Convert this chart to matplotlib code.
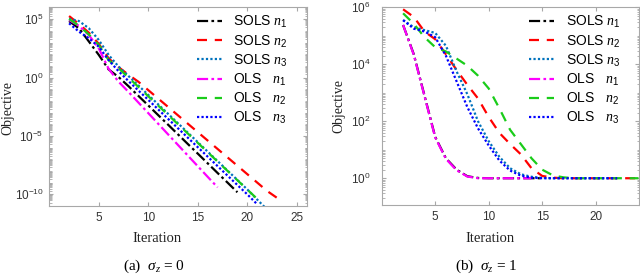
import numpy as np
import matplotlib.pyplot as plt
from matplotlib.ticker import LogLocator, NullFormatter, FixedLocator

plt.rcParams['font.family'] = ['Liberation Sans', 'DejaVu Sans']
plt.rcParams['mathtext.fontset'] = 'custom'
plt.rcParams['mathtext.rm'] = 'Liberation Serif'
plt.rcParams['mathtext.it'] = 'Liberation Serif:italic'
plt.rcParams['mathtext.default'] = 'regular'

# ---- data: log10(objective) per iteration, first iteration = 2 ----
labels = ['SOLS $\\mathit{n}_1$', 'SOLS $\\mathit{n}_2$', 'SOLS $\\mathit{n}_3$',
          'OLS   $\\mathit{n}_1$', 'OLS   $\\mathit{n}_2$', 'OLS   $\\mathit{n}_3$']

# (a) sigma_z = 0
a_sols_n1 = [4.85, 4.23, 3.1, 1.95, 0.7, 0.05, -0.73, -1.56, -2.38, -3.21, -4.03,
             -4.86, -5.69, -6.51, -7.34, -8.17, -8.99, -9.82]
a_sols_n2 = [5.28, 4.6, 3.85, 2.9, 1.65, 0.9, 0.25, -0.35, -1.07, -1.79, -2.51,
             -3.23, -3.95, -4.67, -5.39, -6.11, -6.83, -7.55, -8.27, -8.99, -9.71, -10.3]
a_sols_n3 = [5.05, 4.85, 4.23, 3.23, 1.94, 0.95, 0.14, -0.67, -1.48, -2.29, -3.1,
             -3.91, -4.72, -5.53, -6.34, -7.15, -7.96, -8.77, -9.58, -10.45, -11.3]
a_ols_n1 = [4.94, 4.45, 3.65, 2.5, 0.75, -0.35, -1.22, -2.13, -3.04, -3.95, -4.86,
            -5.77, -6.68, -7.59, -8.5, -9.4]
a_ols_n2 = [5.03, 4.45, 3.7, 2.8, 1.5, 0.8, 0.01, -0.79, -1.59, -2.39, -3.19,
            -3.99, -4.79, -5.59, -6.39, -7.19, -7.99, -8.79, -9.59, -10.39]
a_ols_n3 = [4.66, 3.94, 3.37, 2.65, 1.5, 0.55, -0.29, -1.1, -1.9, -2.72, -3.53,
            -4.34, -5.15, -5.96, -6.77, -7.58, -8.39, -9.2, -10.0, -10.85]

# (b) sigma_z = 1
b_sols_n1 = [5.38, 4.35, 2.9, 1.45, 0.7, 0.3, 0.07, 0.01, 0.0, 0.0, 0.0, 0.0, 0.0, 0.0]
b_sols_n2 = [5.93, 5.66, 5.15, 4.88, 4.35, 3.8, 3.28, 2.8, 2.15, 1.59, 1.2, 0.84,
             0.35, 0.08, 0.02, 0.0, 0.0, 0.0, 0.0, 0.0, 0.0, 0.0, 0.0]
b_sols_n3 = [5.55, 5.3, 5.2, 5.1, 4.65, 3.75, 2.95, 2.0, 1.3, 0.75, 0.35, 0.14,
             0.05, 0.01, 0.0, 0.0, 0.0, 0.0, 0.0, 0.0, 0.0]
b_ols_n1 = [5.38, 4.33, 2.88, 1.43, 0.68, 0.28, 0.06, 0.0, 0.0, 0.0, 0.0, 0.0, 0.0]
b_ols_n2 = [5.79, 5.42, 4.95, 4.6, 4.45, 4.2, 3.95, 3.6, 3.15, 2.45, 1.7, 1.2,
            0.7, 0.3, 0.1, 0.03, 0.0, 0.0, 0.0, 0.0, 0.0, 0.0, 0.0]
b_ols_n3 = [5.55, 5.25, 5.15, 4.95, 4.3, 3.4, 2.5, 1.75, 1.15, 0.62, 0.27, 0.09,
            0.02, 0.0, 0.0, 0.0, 0.0, 0.0, 0.0, 0.0, 0.0]

colors = ['black', 'red', (0, 0.447, 0.741), 'magenta', (0.1, 0.8, 0.1), 'blue']
styles = [(0, (5, 1.5, 1.2, 1.5)), (0, (4.5, 3.5)), (0, (1, 1)),
          (0, (5, 1.5, 1.2, 1.5)), (0, (4.5, 3.5)), (0, (1, 1))]


def style_axes(ax, xlim, ylim, major, ypad):
    ax.set_yscale('log')
    ax.set_xlim(*xlim)
    ax.set_ylim(*ylim)
    ax.set_xticks([5, 10, 15, 20, 25] if xlim[1] > 25 else [5, 10, 15, 20])
    ax.yaxis.set_major_locator(FixedLocator(major))
    ax.yaxis.set_minor_locator(LogLocator(base=10, subs=np.arange(1, 10), numticks=40))
    ax.yaxis.set_minor_formatter(NullFormatter())
    for s in ax.spines.values():
        s.set_color('#a8a8a8')
        s.set_linewidth(0.8)
    ax.tick_params(which='both', direction='in', top=True, right=True,
                   color='#a8a8a8', labelcolor='#333333', labelsize=8.5)
    ax.tick_params(which='major', length=3)
    ax.tick_params(which='minor', length=1.8)
    ax.tick_params(axis='y', pad=ypad)
    ax.tick_params(axis='x', pad=4)


fig = plt.figure(figsize=(6.4, 2.79), dpi=100)
ax1 = fig.add_axes([0.0770, 0.2616, 0.4022, 0.7122])
ax2 = fig.add_axes([0.5964, 0.2652, 0.4013, 0.7086])

panel_a = [a_sols_n1, a_sols_n2, a_sols_n3, a_ols_n1, a_ols_n2, a_ols_n3]
panel_b = [b_sols_n1, b_sols_n2, b_sols_n3, b_ols_n1, b_ols_n2, b_ols_n3]

for ax, panel in [(ax1, panel_a), (ax2, panel_b)]:
    for vals, c, ls, lab in zip(panel, colors, styles, labels):
        it = np.arange(2, 2 + len(vals))
        ax.plot(it, np.power(10.0, vals), color=c, linestyle=ls, lw=1.6, label=lab)

style_axes(ax1, (0, 26), (1e-11, 1.07e6), [1e-10, 1e-5, 1e0, 1e5], 4)
style_axes(ax2, (0, 24), (10 ** -0.94, 1e6), [1e0, 1e2, 1e4, 1e6], 8)

ax1.legend(loc='upper left', bbox_to_anchor=(197 / 640, 1 - 14 / 279),
           bbox_transform=fig.transFigure, frameon=False, fontsize=10,
           handlelength=1.8, handletextpad=0.8, labelspacing=0.2, borderpad=0,
           borderaxespad=0)
ax2.legend(loc='upper left', bbox_to_anchor=(529 / 640, 1 - 14 / 279),
           bbox_transform=fig.transFigure, frameon=False, fontsize=10,
           handlelength=1.8, handletextpad=0.9, labelspacing=0.2, borderpad=0,
           borderaxespad=0)

serif = ['Liberation Serif', 'DejaVu Serif']
fig.text(7.5 / 640, 1 - 108 / 279, 'Objective', rotation=90, ha='center', va='center',
         fontsize=10, family=serif, color='#222222')
fig.text(339 / 640, 1 - 106 / 279, 'Objective', rotation=90, ha='center', va='center',
         fontsize=10, family=serif, color='#222222')
fig.text(157 / 640, 1 - 238 / 279, 'Iteration', ha='center', va='center',
         fontsize=10.5, family=serif, color='#222222')
fig.text(490 / 640, 1 - 238 / 279, 'Iteration', ha='center', va='center',
         fontsize=10.5, family=serif, color='#222222')
fig.text(154 / 640, 1 - 266 / 279, '(a)  $\\mathit{\\sigma}_\\mathit{z}$ = 0', ha='center',
         va='center', fontsize=11, family=serif)
fig.text(486 / 640, 1 - 266 / 279, '(b)  $\\mathit{\\sigma}_\\mathit{z}$ = 1', ha='center',
         va='center', fontsize=11, family=serif)

fig.savefig('out.png', dpi=100)
